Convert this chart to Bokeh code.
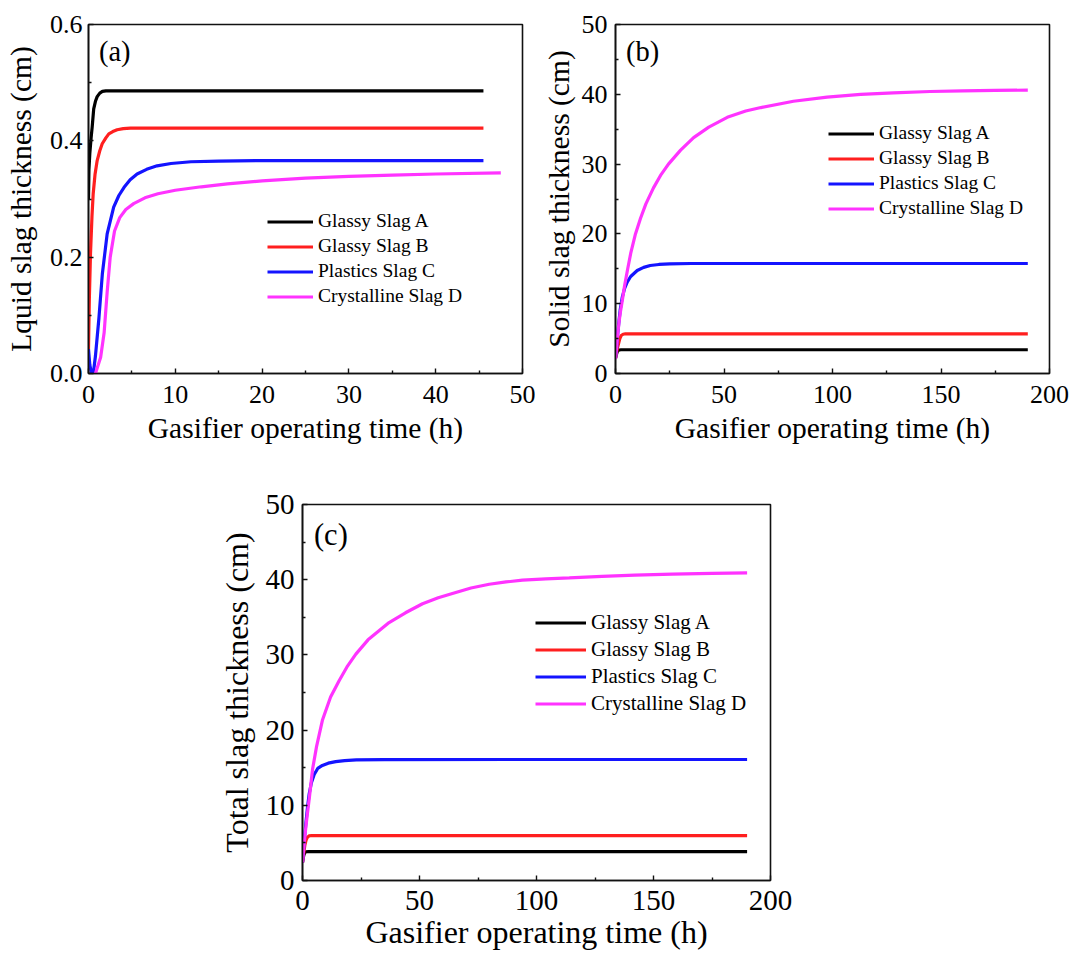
from bokeh.plotting import figure
from bokeh.models import (Range1d, FixedTicker, PrintfTickFormatter,
                          Legend, LegendItem, Label, Spacer)
from bokeh.layouts import column, row
from bokeh.embed import file_html
from bokeh.resources import INLINE

FONT = "Liberation Serif"
AX_FONT = "'Liberation Serif', serif"

series_names = ["Glassy Slag A", "Glassy Slag B", "Plastics Slag C", "Crystalline Slag D"]
colors = ["#000000", "#FF1F1F", "#1414FF", "#FF33FF"]

# tick positions
a_xticks = [0, 10, 20, 30, 40, 50]
a_xminor = [5, 15, 25, 35, 45]
a_yticks = [0.0, 0.2, 0.4, 0.6]
a_yminor = [0.1, 0.3, 0.5]
bc_xticks = [0, 50, 100, 150, 200]
bc_xminor = [25, 75, 125, 175]
bc_yticks = [0, 10, 20, 30, 40, 50]
bc_yminor = [5, 15, 25, 35, 45]

# ---------------- Panel (a): liquid slag thickness (cm) ----------------
a_t_A = [0.0, 0.05, 0.15, 0.3, 0.42, 0.6, 0.8, 1.0, 1.3, 1.6, 2.0, 2.5, 10, 20, 30, 45.5]
a_v_A = [0.30, 0.35, 0.378, 0.405, 0.423, 0.455, 0.468, 0.476, 0.482, 0.485, 0.486, 0.486,
         0.486, 0.486, 0.486, 0.486]
a_t_B = [0.0, 0.1, 0.23, 0.4, 0.54, 0.75, 1.0, 1.3, 1.58, 2.0, 2.34, 2.8, 3.3, 4.0, 4.84,
         10, 20, 30, 45.5]
a_v_B = [0.042, 0.13, 0.206, 0.27, 0.309, 0.342, 0.366, 0.383, 0.395, 0.405, 0.412, 0.416,
         0.419, 0.421, 0.422, 0.422, 0.422, 0.422, 0.422]
a_t_C = [0.0, 0.15, 0.35, 0.55, 0.8, 1.2, 1.6, 2.15, 2.9, 3.5, 4.1, 4.8, 5.6, 6.7, 7.9,
         9.5, 11.8, 15, 20, 30, 45.5]
a_v_C = [0.042, 0.015, 0.0, 0.0, 0.03, 0.095, 0.172, 0.24, 0.286, 0.306, 0.32, 0.333,
         0.343, 0.351, 0.357, 0.361, 0.364, 0.365, 0.366, 0.366, 0.366]
a_t_D = [0.8, 1.4, 1.8, 2.15, 2.5, 3.0, 3.6, 4.3, 5.2, 6.5, 8, 10, 13, 16, 20, 25, 30, 35,
         40, 47.5]
a_v_D = [0.0, 0.028, 0.07, 0.14, 0.2, 0.245, 0.268, 0.282, 0.292, 0.302, 0.309, 0.315,
         0.321, 0.326, 0.331, 0.336, 0.339, 0.341, 0.343, 0.345]

# ---------------- Panel (b): solid slag thickness (cm) ----------------
b_t_A = [0.0, 0.4, 0.8, 1.2, 1.8, 2.5, 50, 100, 150, 190]
b_v_A = [2.2, 2.7, 3.1, 3.3, 3.37, 3.4, 3.4, 3.4, 3.4, 3.4]
b_t_B = [0.0, 0.5, 1.0, 1.5, 2.0, 2.6, 3.5, 4.6, 50, 100, 150, 190]
b_v_B = [2.2, 3.0, 3.8, 4.4, 5.0, 5.44, 5.62, 5.69, 5.69, 5.69, 5.69, 5.69]
b_t_C = [0.0, 0.5, 1.0, 1.5, 2.2, 3.1, 4.2, 5.4, 7.0, 10, 13, 16, 20, 25, 35, 100, 190]
b_v_C = [2.2, 3.6, 5.6, 7.2, 9.2, 10.9, 12.2, 13.1, 13.9, 14.75, 15.2, 15.47, 15.62,
         15.7, 15.76, 15.76, 15.76]
b_t_D = [0.0, 0.5, 1.0, 1.6, 2.3, 3.1, 4.2, 5.5, 7.0, 9.2, 11.5, 14, 17.5, 21, 24.4, 30,
         36, 43, 51.5, 60, 67, 82, 97.5, 113, 128, 145, 160, 175, 190]
b_v_D = [2.1, 3.7, 5.5, 7.3, 8.9, 10.4, 12.6, 14.8, 17.2, 20.0, 22.2, 24.3, 26.6, 28.5,
         30.0, 32.0, 33.8, 35.3, 36.7, 37.6, 38.1, 39.0, 39.6, 40.0, 40.2, 40.4, 40.5,
         40.55, 40.6]

# ---------------- Panel (c): total slag thickness (cm) ----------------
c_t_A = [0.0, 0.3, 0.6, 1.0, 1.5, 2.5, 50, 100, 150, 190]
c_v_A = [2.4, 3.0, 3.4, 3.7, 3.82, 3.85, 3.85, 3.85, 3.85, 3.85]
c_t_B = [0.0, 0.5, 1.0, 1.5, 2.0, 2.8, 4.0, 50, 100, 150, 190]
c_v_B = [2.4, 3.6, 4.7, 5.35, 5.7, 5.93, 5.98, 5.98, 5.98, 5.98, 5.98]
c_t_C = [0.0, 0.5, 1.0, 1.5, 2.1, 2.85, 3.8, 5.0, 6.5, 8.5, 11, 14.2, 18, 23, 35, 100, 190]
c_v_C = [2.4, 4.3, 6.1, 7.8, 9.6, 11.5, 13.0, 14.1, 14.9, 15.3, 15.6, 15.8, 15.95, 16.03,
         16.08, 16.09, 16.09]
c_t_D = [0.0, 0.5, 1.0, 1.5, 2.1, 3.0, 4.3, 6.0, 8.5, 12, 15.7, 19, 22.8, 28, 37, 44,
         51.3, 58, 65.5, 72, 79.8, 87, 94, 104, 114, 128, 142, 158, 175, 190]
c_v_D = [2.4, 4.2, 5.8, 7.3, 8.9, 11.2, 14.8, 17.8, 21.3, 24.4, 26.6, 28.4, 30.1, 32.0,
         34.3, 35.6, 36.8, 37.6, 38.3, 38.9, 39.4, 39.7, 39.95, 40.12, 40.24, 40.45,
         40.6, 40.75, 40.85, 40.9]

x_label = "Gasifier operating time (h)"
y_labels = ["Lquid slag thickness (cm)", "Solid slag thickness (cm)",
            "Total slag thickness (cm)"]
panel_tags = ["(a)", "(b)", "(c)"]


def make_panel(series, xmax, ymax, xt, xm, yt, ym, yfmt, ylabel, tag, tag_xy,
               fw, fh, borders, tick_fs, title_fs, legend_fs, tag_fs,
               xstand, ystand, leg_loc, leg_glyph_w, leg_row_h, leg_spacing):
    bl, br, bt, bb = borders
    p = figure(frame_width=fw, frame_height=fh,
               min_border_left=bl, min_border_right=br,
               min_border_top=bt, min_border_bottom=bb,
               x_range=Range1d(0, xmax), y_range=Range1d(0, ymax),
               output_backend="svg", toolbar_location=None)
    p.grid.visible = False
    p.outline_line_color = "#111111"
    p.outline_line_width = 1.6
    p.outline_line_alpha = 1.0
    p.background_fill_color = "white"
    p.border_fill_color = "white"

    p.xaxis.ticker = FixedTicker(ticks=xt, minor_ticks=xm)
    p.yaxis.ticker = FixedTicker(ticks=yt, minor_ticks=ym)
    if yfmt:
        p.yaxis.formatter = PrintfTickFormatter(format=yfmt)

    p.axis.axis_line_color = "#111111"
    p.axis.axis_line_width = 1.6
    p.axis.major_tick_line_color = "#111111"
    p.axis.major_tick_line_width = 1.4
    p.axis.minor_tick_line_color = "#111111"
    p.axis.minor_tick_line_width = 1.4
    p.axis.major_tick_in = 5
    p.axis.major_tick_out = 0
    p.axis.minor_tick_in = 3
    p.axis.minor_tick_out = 0
    p.axis.major_label_text_font = AX_FONT
    p.axis.major_label_text_font_size = tick_fs
    p.axis.major_label_text_color = "black"
    p.axis.axis_label_text_font = AX_FONT
    p.axis.axis_label_text_font_size = title_fs
    p.axis.axis_label_text_font_style = "normal"
    p.axis.axis_label_text_color = "black"

    p.xaxis.axis_label = x_label
    p.yaxis.axis_label = ylabel
    p.xaxis.major_label_standoff = xstand[0]
    p.xaxis.axis_label_standoff = xstand[1]
    p.yaxis.major_label_standoff = ystand[0]
    p.yaxis.axis_label_standoff = ystand[1]

    items = []
    for (tt, vv), name, col in zip(series, series_names, colors):
        r = p.line(tt, vv, line_color=col, line_width=3.2)
        items.append(LegendItem(label=name, renderers=[r]))

    leg = Legend(items=items, location=leg_loc, padding=0, margin=0,
                 border_line_alpha=0, background_fill_alpha=0,
                 glyph_width=leg_glyph_w, glyph_height=leg_row_h,
                 label_height=leg_row_h, label_standoff=5, spacing=leg_spacing,
                 label_text_font=FONT, label_text_font_size=legend_fs,
                 label_text_color="black")
    p.add_layout(leg)

    p.add_layout(Label(x=tag_xy[0], y=tag_xy[1], text=tag, text_font=FONT,
                       text_font_size=tag_fs, text_align="left",
                       text_baseline="middle", text_color="black"))
    return p


pa = make_panel([(a_t_A, a_v_A), (a_t_B, a_v_B), (a_t_C, a_v_C), (a_t_D, a_v_D)],
                50, 0.6, a_xticks, a_xminor, a_yticks, a_yminor, "%.1f",
                y_labels[0], panel_tags[0], (1.2, 0.553),
                434, 349, (88, 13, 24, 80), "26px", "29.5px", "19.5px", "28.5px",
                (12, 6), (6, 10), (179, 66), 46, 21, 3)

pb = make_panel([(b_t_A, b_v_A), (b_t_B, b_v_B), (b_t_C, b_v_C), (b_t_D, b_v_D)],
                200, 50, bc_xticks, bc_xminor, bc_yticks, bc_yminor, None,
                y_labels[1], panel_tags[1], (4.8, 46.1),
                434, 349, (80, 22, 24, 80), "26px", "29.5px", "19.5px", "28.5px",
                (12, 6), (8, 4), (213, 154), 46, 21, 3)

pc = make_panel([(c_t_A, c_v_A), (c_t_B, c_v_B), (c_t_C, c_v_C), (c_t_D, c_v_D)],
                200, 50, bc_xticks, bc_xminor, bc_yticks, bc_yminor, None,
                y_labels[2], panel_tags[2], (4.9, 46.0),
                468, 376, (85, 25, 51, 73), "29px", "32px", "21px", "30.5px",
                (10, 1), (8, 8), (233, 164), 51, 23, 2)

layout = column(row(pa, pb), row(Spacer(width=215, height=10), pc))

open("out.html", "w").write(file_html(layout, INLINE))
